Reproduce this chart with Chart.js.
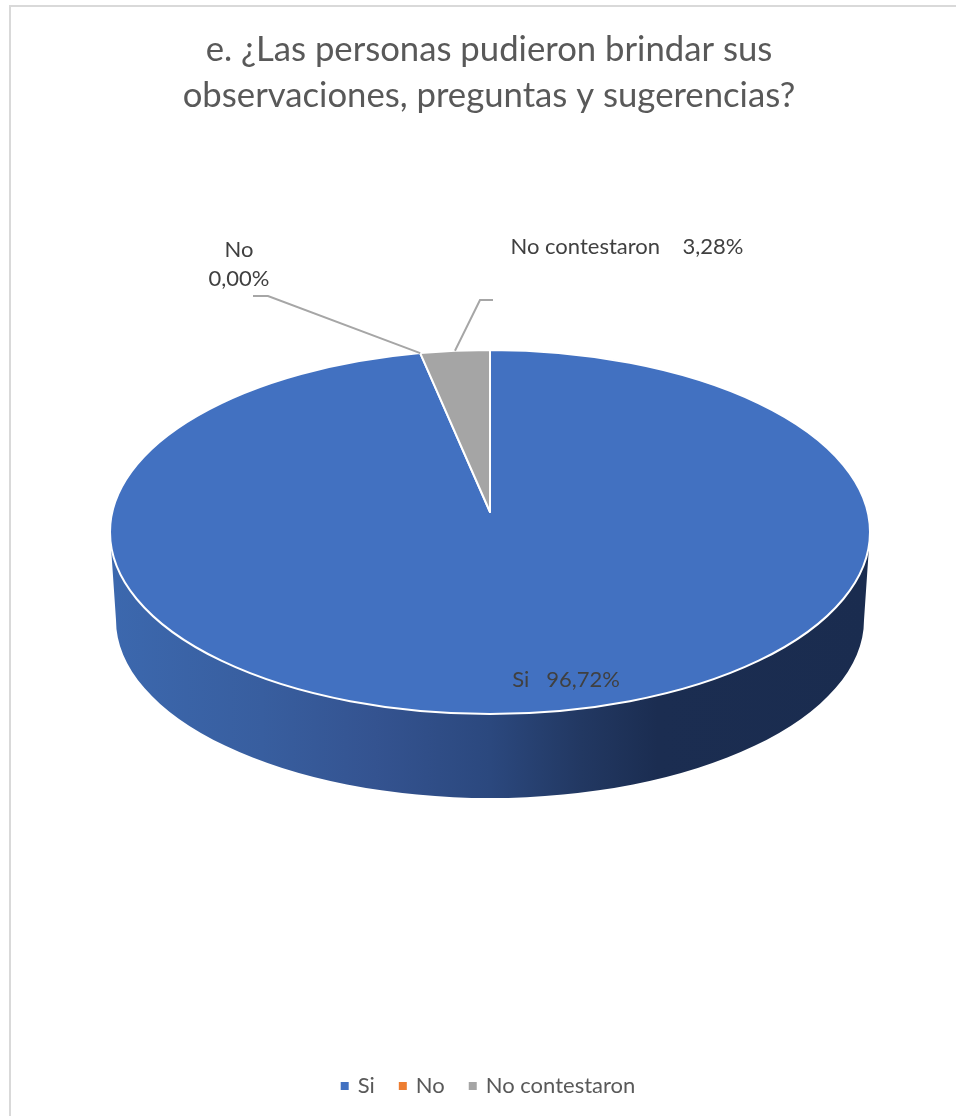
<!DOCTYPE html>
<html>
<head>
<meta charset="utf-8">
<style>
html,body{margin:0;padding:0;background:#fff;overflow:hidden}
#frame{position:absolute;left:9px;top:5px;right:0;bottom:0;border-left:2px solid #d9d9d9;border-top:2px solid #d9d9d9}
canvas{position:absolute;left:0;top:0}
</style>
<script src="https://cdn.jsdelivr.net/npm/chart.js@4/dist/chart.umd.min.js"></script>
</head>
<body>
<div id="frame"></div>
<canvas id="c" width="956" height="1116"></canvas>
<script>
const titleLines = ["e. ¿Las personas pudieron brindar sus", "observaciones, preguntas y sugerencias?"];
const categories = ["Si", "No", "No contestaron"];
const values = [96.72, 0, 3.28];
const colors = ["#4271C1", "#ED7D31", "#A5A5A5"];

const FONT = "Lato";
const pie = {cx: 490, cy: 532, rx: 380, ry: 182, apexShift: 20,
             baseDrop: 88, baseRx: 374, baseRy: 178};
const labelStyle = [
  {lines: i => [categories[i] + "   " + pct(values[i])], x: 566, y: 680, anchor: null},
  {lines: i => [categories[i], pct(values[i])], x: 239, y: 250, anchor: "start", elbow: [[253,296],[268,296]]},
  {lines: i => [categories[i] + "    " + pct(values[i])], x: 627, y: 247, anchor: "mid", elbow: [[493,300],[480,300]]}
];
function pct(v){ return v.toFixed(2).replace(".", ",") + "%"; }

// Perspective mapping of a pie angle (0 = top, clockwise) to a point on the top ellipse.
function rimParam(theta){
  const k = pie.apexShift / pie.ry;
  const b = (pie.ry - pie.apexShift) * (1 + k);
  const c = pie.rx * Math.sqrt(1 - k * k);
  const u = Math.sin(theta), v = Math.cos(theta), d = 1 + k * v;
  const X = c * u / d, Yup = pie.apexShift + b * v / d;
  let t = Math.atan2(X / pie.rx, Yup / pie.ry);
  t += 2 * Math.PI * Math.round((theta - t) / (2 * Math.PI));
  return t;
}
function rimPoint(el, theta){
  const t = rimParam(theta);
  return [el.x + pie.rx * Math.sin(t), el.y - pie.ry * Math.cos(t)];
}

// Arc elements are drawn as tilted wedges.
Chart.ArcElement.prototype.draw = function(ctx){
  const a = this.startAngle + Math.PI / 2, b = this.endAngle + Math.PI / 2;
  if (b - a < 1e-6) return;
  const o = this.options;
  ctx.save();
  ctx.beginPath();
  ctx.moveTo(this.x, this.y - pie.apexShift);
  ctx.ellipse(this.x, this.y, pie.rx, pie.ry, 0, rimParam(a) - Math.PI / 2, rimParam(b) - Math.PI / 2);
  ctx.closePath();
  ctx.fillStyle = o.backgroundColor;
  ctx.fill();
  ctx.lineWidth = o.borderWidth;
  ctx.strokeStyle = o.borderColor;
  ctx.lineJoin = "round";
  ctx.stroke();
  ctx.restore();
};

const tiltedPie = {
  id: "tiltedPie",
  afterLayout(chart){
    const r = pie.rx;
    Object.assign(chart.chartArea, {left: pie.cx - r, right: pie.cx + r, top: pie.cy - r, bottom: pie.cy + r,
                                    width: 2 * r, height: 2 * r});
  },
  beforeDatasetsDraw(chart){
    const ctx = chart.ctx;
    const el = chart.getDatasetMeta(0).data[0];
    const x = el.x, y = el.y, by = y + pie.baseDrop;
    const g = ctx.createLinearGradient(x - pie.rx, 0, x + pie.rx, 0);
    g.addColorStop(0, "#3C68AE");
    g.addColorStop(0.2, "#385E9F");
    g.addColorStop(0.35, "#345390");
    g.addColorStop(0.5, "#2B487E");
    g.addColorStop(0.62, "#223862");
    g.addColorStop(0.72, "#1B2D51");
    g.addColorStop(1, "#1A2C4F");
    ctx.save();
    ctx.beginPath();
    ctx.moveTo(x - pie.rx, y);
    ctx.lineTo(x - pie.baseRx, by);
    ctx.ellipse(x, by, pie.baseRx, pie.baseRy, 0, Math.PI, 0, true);
    ctx.lineTo(x + pie.rx, y);
    ctx.closePath();
    ctx.fillStyle = g;
    ctx.fill();
    ctx.restore();
  },
  afterDatasetsDraw(chart){
    const ctx = chart.ctx;
    const els = chart.getDatasetMeta(0).data;
    ctx.save();
    ctx.font = "22px " + FONT;
    ctx.textBaseline = "middle";
    ctx.textAlign = "center";
    labelStyle.forEach((s, i) => {
      const el = els[i];
      if (s.elbow) {
        const a = el.startAngle + Math.PI / 2, b = el.endAngle + Math.PI / 2;
        const end = rimPoint(el, s.anchor === "mid" ? (a + b) / 2 : a);
        ctx.beginPath();
        ctx.moveTo(s.elbow[0][0], s.elbow[0][1]);
        ctx.lineTo(s.elbow[1][0], s.elbow[1][1]);
        ctx.lineTo(end[0], end[1]);
        ctx.strokeStyle = "#A6A6A6";
        ctx.lineWidth = 2;
        ctx.stroke();
      }
      ctx.fillStyle = "#404040";
      s.lines(i).forEach((t, n) => ctx.fillText(t, s.x, s.y + n * 29));
    });
    ctx.restore();
  }
};

new Chart(document.getElementById("c"), {
  type: "pie",
  plugins: [tiltedPie],
  data: {
    labels: categories,
    datasets: [{
      data: values,
      backgroundColor: colors,
      borderColor: "#ffffff",
      borderWidth: 2
    }]
  },
  options: {
    responsive: false,
    animation: false,
    layout: {padding: {left: 22, right: 0, top: 0, bottom: 9}},
    plugins: {
      tooltip: {enabled: false},
      title: {
        display: true,
        text: titleLines,
        color: "#595959",
        font: {family: FONT, size: 34.7, weight: "normal", lineHeight: 1.33},
        padding: {top: 27, bottom: 10}
      },
      legend: {
        position: "bottom",
        labels: {
          color: "#595959",
          font: {family: FONT, size: 22},
          usePointStyle: true,
          pointStyle: "rect",
          boxWidth: 4,
          boxHeight: 10,
          padding: 26
        }
      }
    }
  }
});
</script>
</body>
</html>
